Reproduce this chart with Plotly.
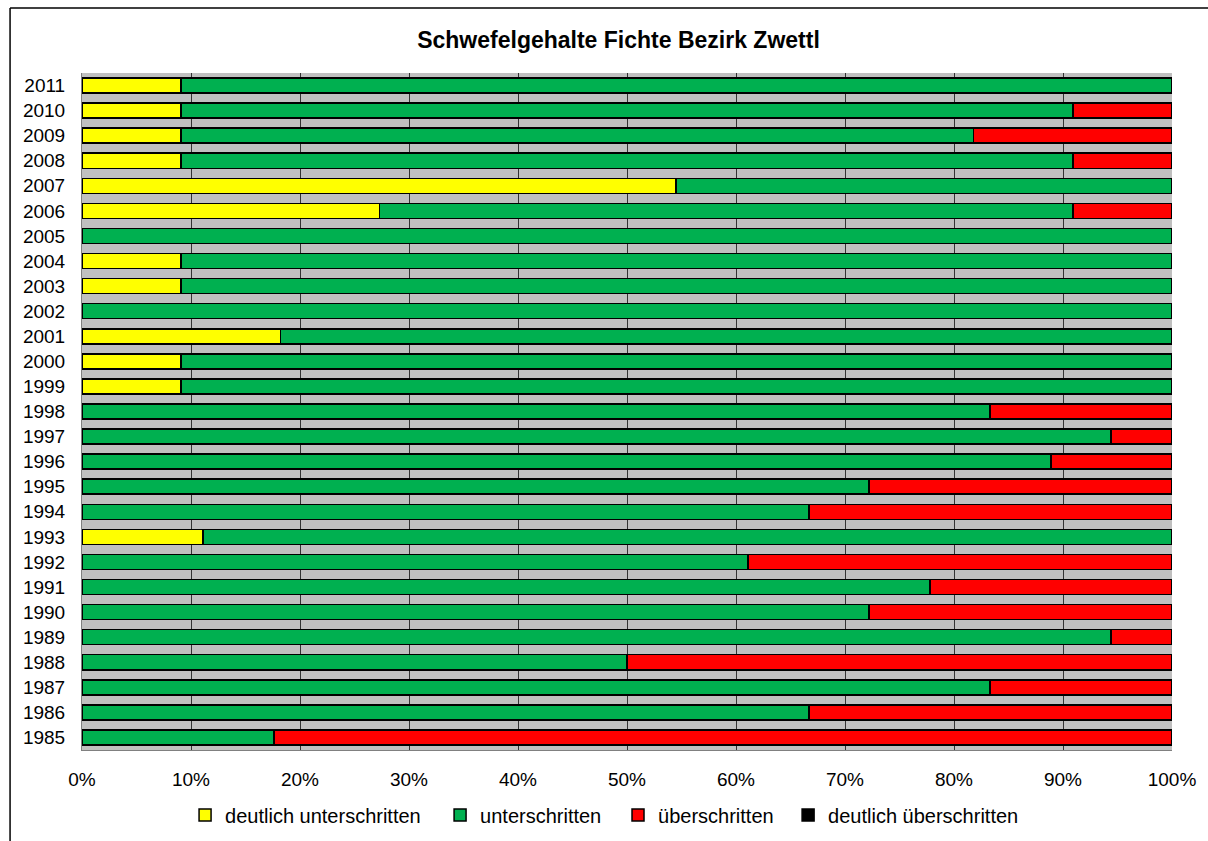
import plotly.graph_objects as go

years = [str(y) for y in range(1985, 2012)]

# shares per year in percent, 1985 .. 2011
deutlich_unterschritten = [0, 0, 0, 0, 0, 0, 0, 0, 11.1, 0, 0, 0, 0, 0,
                           9.1, 9.1, 18.2, 0, 9.1, 9.1, 0, 27.3, 54.5, 9.1, 9.1, 9.1, 9.1]
unterschritten = [17.6, 66.7, 83.3, 50.0, 94.4, 72.2, 77.8, 61.1, 88.9, 66.7, 72.2, 88.9, 94.4, 83.3,
                  90.9, 90.9, 81.8, 100, 90.9, 90.9, 100, 63.6, 45.5, 81.8, 72.7, 81.8, 90.9]
ueberschritten = [82.4, 33.3, 16.7, 50.0, 5.6, 27.8, 22.2, 38.9, 0, 33.3, 27.8, 11.1, 5.6, 16.7,
                  0, 0, 0, 0, 0, 0, 0, 9.1, 0, 9.1, 18.2, 9.1, 0]
deutlich_ueberschritten = [0] * 27

series = [
    ("deutlich unterschritten", deutlich_unterschritten, "#FFFF00"),
    ("unterschritten", unterschritten, "#00B050"),
    ("überschritten", ueberschritten, "#FF0000"),
    ("deutlich überschritten", deutlich_ueberschritten, "#000000"),
]

# each legend entry sits in its own legend box along the bottom edge
legend_ids = ["legend", "legend2", "legend3", "legend4"]
legend_x = [0.1532, 0.3643, 0.5116, 0.6524]

fig = go.Figure()
for (name, vals, color), lid in zip(series, legend_ids):
    fig.add_trace(go.Bar(
        y=years, x=vals, name=name, orientation="h", legend=lid, showlegend=True,
        marker=dict(color=color, line=dict(color="#000000", width=1.5)),
    ))

legend_style = dict(orientation="h", xref="container", yref="container",
                    xanchor="left", yanchor="middle", y=0.031,
                    font=dict(size=20), itemwidth=30, bgcolor="rgba(0,0,0,0)")

fig.update_layout(
    showlegend=True,
    barmode="stack",
    barnorm="percent",
    bargap=0.4,
    width=1208, height=841,
    margin=dict(l=82, r=36, t=73, b=91),
    paper_bgcolor="#FFFFFF",
    plot_bgcolor="#C0C0C0",
    font=dict(family="Liberation Sans, Arial, sans-serif", size=18, color="#000000"),
    title=dict(text="<b>Schwefelgehalte Fichte Bezirk Zwettl</b>", x=0.512, xanchor="center",
               y=0.952, yanchor="middle", font=dict(size=23)),
    xaxis=dict(range=[0, 100], dtick=10, ticksuffix="%", showgrid=True,
               gridcolor="#333333", gridwidth=1, zeroline=False, automargin=False,
               showline=True, linecolor="#808080", ticklabelstandoff=12,
               tickfont=dict(size=19)),
    yaxis=dict(type="category", showgrid=False, showline=True, linecolor="#808080",
               automargin=False, ticklabelstandoff=12, tickfont=dict(size=19)),
    shapes=[
        dict(type="line", xref="paper", yref="paper", x0=-0.066, x1=1.2, y0=1.096, y1=1.096,
             line=dict(color="#000000", width=1.5)),
        dict(type="line", xref="paper", yref="paper", x0=-0.066, x1=-0.066, y0=-0.2, y1=1.096,
             line=dict(color="#000000", width=1.5)),
    ],
)
for lid, lx in zip(legend_ids, legend_x):
    fig.update_layout({lid: dict(legend_style, x=lx)})

fig.write_html("out.html")
